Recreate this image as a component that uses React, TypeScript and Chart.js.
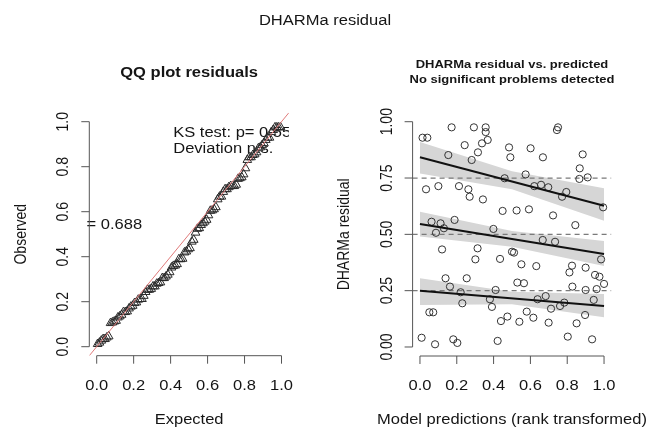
import React, { useEffect, useRef } from "react";
import { Chart, registerables } from "chart.js";
Chart.register(...registerables);

// ---------- data ----------
const residX = [
  0.014, 0.04, 0.172, 0.293, 0.357, 0.357, 0.368, 0.337, 0.243, 0.315,
  0.281, 0.154, 0.484, 0.491, 0.601, 0.668, 0.75, 0.744, 0.033, 0.1,
  0.212, 0.263, 0.27, 0.342, 0.46, 0.574, 0.621, 0.658, 0.697, 0.772,
  0.795, 0.884, 0.868, 0.866, 0.911, 0.995, 0.449, 0.525, 0.592, 0.723,
  0.844, 0.063, 0.112, 0.087, 0.13, 0.188, 0.12, 0.313, 0.301, 0.399,
  0.435, 0.5, 0.511, 0.551, 0.632, 0.667, 0.734, 0.826, 0.812, 0.9,
  0.951, 0.984, 0.975, 1.0, 0.139, 0.163, 0.254, 0.221, 0.23, 0.411,
  0.529, 0.565, 0.38, 0.391, 0.639, 0.683, 0.712, 0.761, 0.784, 0.828,
  0.9, 0.96, 0.944, 0.051, 0.072, 0.44, 0.475, 0.54, 0.58, 0.616,
  0.699, 0.851, 0.897, 0.009, 0.082, 0.181, 0.203, 0.422, 0.803, 0.935,
];
const residY = [
  0.929, 0.929, 0.975, 0.975, 0.975, 0.954, 0.919, 0.904, 0.896, 0.864,
  0.83, 0.852, 0.886, 0.842, 0.882, 0.842, 0.975, 0.963, 0.7, 0.714,
  0.714, 0.7, 0.667, 0.655, 0.749, 0.766, 0.714, 0.72, 0.709, 0.667,
  0.688, 0.855, 0.793, 0.746, 0.753, 0.62, 0.604, 0.606, 0.611, 0.584,
  0.541, 0.556, 0.549, 0.507, 0.527, 0.564, 0.433, 0.438, 0.389, 0.524,
  0.391, 0.423, 0.419, 0.367, 0.359, 0.475, 0.467, 0.361, 0.331, 0.352,
  0.32, 0.389, 0.312, 0.28, 0.305, 0.268, 0.305, 0.243, 0.194, 0.253,
  0.286, 0.283, 0.212, 0.178, 0.212, 0.226, 0.17, 0.182, 0.197, 0.268,
  0.253, 0.257, 0.209, 0.154, 0.154, 0.115, 0.135, 0.112, 0.157, 0.13,
  0.108, 0.105, 0.142, 0.041, 0.012, 0.034, 0.018, 0.027, 0.046, 0.034,
];

// quantile regression lines (value at x = 0 and x = 1)
const lineX = [0, 1];
const q25Line = [0.25, 0.182];
const q50Line = [0.546, 0.413];
const q75Line = [0.842, 0.627];
// confidence bands (at x = 0, 0.5, 1)
const bandX = [0, 0.5, 1];
const q25Lo = [0.186, 0.19, 0.132];
const q25Hi = [0.305, 0.245, 0.235];
const q50Lo = [0.49, 0.445, 0.36];
const q50Hi = [0.6, 0.515, 0.47];
const q75Lo = [0.77, 0.7, 0.56];
const q75Hi = [0.91, 0.78, 0.705];
const refLines = [0.25, 0.5, 0.75];

const xTicks = [0, 0.2, 0.4, 0.6, 0.8, 1];
const xTickLabels = ["0.0", "0.2", "0.4", "0.6", "0.8", "1.0"];
const qqYTicks = [0, 0.2, 0.4, 0.6, 0.8, 1];
const qqYTickLabels = ["0.0", "0.2", "0.4", "0.6", "0.8", "1.0"];
const resYTicks = [0, 0.25, 0.5, 0.75, 1];
const resYTickLabels = ["0.00", "0.25", "0.50", "0.75", "1.00"];

const mainTitle = "DHARMa residual";
const qqTitle = "QQ plot residuals";
const resTitle = ["DHARMa residual vs. predicted", "No significant problems detected"];
const qqXLabel = "Expected";
const qqYLabel = "Observed";
const resXLabel = "Model predictions (rank transformed)";
const resYLabel = "DHARMa residual";
const ksText = ["KS test: p= 0.55", "Deviation n.s."];
const dispText = "= 0.688";

// QQ points: sorted residuals vs uniform plotting positions
const qqObserved = [...residY].sort((a, b) => a - b);
const qqExpected = qqObserved.map((_, i) => (i + 0.5) / qqObserved.length);

// ---------- styling ----------
const AXMIN = -0.04;
const AXMAX = 1.04;
const FONT = '"Liberation Sans", Arial, Helvetica, sans-serif';
const SX = 1.18;
const W = 647;
const H = 435;

function txt(ctx: CanvasRenderingContext2D, s: string, x: number, y: number, font: string, align: CanvasTextAlign = "center", rot = false) {
  ctx.save();
  ctx.translate(x, y);
  ctx.scale(SX, 1);
  if (rot) ctx.rotate(-Math.PI / 2);
  ctx.font = font;
  ctx.textAlign = align;
  ctx.textBaseline = "middle";
  ctx.fillStyle = "#151515";
  ctx.fillText(s, 0, 0);
  ctx.restore();
}

function axesPlugin(cfg: {
  yTicks: number[];
  yLabels: string[];
  xLabel: string;
  yLabel: string;
  titles: string[];
  titleFont: string;
  titleY: number[];
  extra?: (chart: any) => void;
  before?: (chart: any) => void;
}) {
  return {
    id: "rAxes",
    beforeDatasetsDraw(chart: any) {
      if (cfg.before) cfg.before(chart);
    },
    afterDraw(chart: any) {
      const ctx = chart.ctx as CanvasRenderingContext2D;
      const { left, right, top, bottom } = chart.chartArea;
      const xs = chart.scales.x;
      const ys = chart.scales.y;
      ctx.save();
      ctx.strokeStyle = "#555";
      ctx.lineWidth = 1;
      ctx.beginPath();
      ctx.moveTo(xs.getPixelForValue(xTicks[0]), bottom);
      ctx.lineTo(xs.getPixelForValue(xTicks[xTicks.length - 1]), bottom);
      xTicks.forEach((t) => {
        const px = xs.getPixelForValue(t);
        ctx.moveTo(px, bottom);
        ctx.lineTo(px, bottom + 8);
      });
      ctx.moveTo(left, ys.getPixelForValue(cfg.yTicks[0]));
      ctx.lineTo(left, ys.getPixelForValue(cfg.yTicks[cfg.yTicks.length - 1]));
      cfg.yTicks.forEach((t) => {
        const py = ys.getPixelForValue(t);
        ctx.moveTo(left, py);
        ctx.lineTo(left - 8, py);
      });
      ctx.stroke();
      ctx.restore();
      const f = `14px ${FONT}`;
      xTicks.forEach((t, i) => txt(ctx, xTickLabels[i], xs.getPixelForValue(t), bottom + 30, f));
      cfg.yTicks.forEach((t, i) => txt(ctx, cfg.yLabels[i], left - 25.5, ys.getPixelForValue(t), f, "center", true));
      const cx = (left + right) / 2;
      txt(ctx, cfg.xLabel, cx, bottom + 64, f);
      txt(ctx, cfg.yLabel, left - 68, (top + bottom) / 2, f, "center", true);
      cfg.titles.forEach((t, i) => txt(ctx, t, cx, cfg.titleY[i], cfg.titleFont));
      if (cfg.extra) cfg.extra(chart);
    },
  };
}

const scaleOpts = {
  x: { type: "linear", min: AXMIN, max: AXMAX, display: false },
  y: { type: "linear", min: AXMIN, max: AXMAX, display: false },
};

export default function App() {
  const leftRef = useRef<HTMLCanvasElement>(null);
  const rightRef = useRef<HTMLCanvasElement>(null);

  useEffect(() => {
    const left = new Chart(leftRef.current as HTMLCanvasElement, {
      type: "scatter",
      data: {
        datasets: [
          {
            data: [AXMIN, AXMAX].map((v) => ({ x: v, y: v })),
            showLine: true,
            borderColor: "#e07a7a",
            borderWidth: 1,
            pointRadius: 0,
          },
          {
            data: qqExpected.map((x, i) => ({ x, y: qqObserved[i] })),
            pointStyle: "triangle",
            pointRadius: 5,
            borderColor: "#2a2a2a",
            backgroundColor: "rgba(0,0,0,0)",
            borderWidth: 1,
          },
        ],
      },
      options: {
        animation: false,
        responsive: false,
        events: [],
        layout: { padding: { left: 89.3, right: W - 288.9, top: 112.7, bottom: H - 355.7 } },
        scales: scaleOpts as any,
        plugins: { legend: { display: false }, tooltip: { enabled: false } },
      },
      plugins: [
        axesPlugin({
          yTicks: qqYTicks,
          yLabels: qqYTickLabels,
          xLabel: qqXLabel,
          yLabel: qqYLabel,
          titles: [qqTitle],
          titleFont: `bold 14px ${FONT}`,
          titleY: [73],
          before: (chart: any) => {
            const ctx = chart.ctx as CanvasRenderingContext2D;
            const a = chart.chartArea;
            const xs = chart.scales.x;
            const ys = chart.scales.y;
            ctx.save();
            ctx.beginPath();
            ctx.rect(a.left, a.top, a.right - a.left, a.bottom - a.top);
            ctx.clip();
            const f = `14px ${FONT}`;
            txt(ctx, ksText[0], xs.getPixelForValue(0.414), ys.getPixelForValue(0.951), f, "left");
            txt(ctx, ksText[1], xs.getPixelForValue(0.414), ys.getPixelForValue(0.877), f, "left");
            ctx.restore();
            txt(ctx, dispText, xs.getPixelForValue(-0.055), ys.getPixelForValue(0.541), `14px ${FONT}`, "left");
          },
          extra: (chart: any) => {
            const ctx = chart.ctx as CanvasRenderingContext2D;
            txt(ctx, mainTitle, 325, 21, `14px ${FONT}`);
          },
        }),
      ],
    } as any);

    const band = (lo: number[], hi: number[]) => [
      {
        data: bandX.map((x, i) => ({ x, y: lo[i] })),
        showLine: true,
        borderWidth: 0,
        borderColor: "rgba(0,0,0,0)",
        pointRadius: 0,
        fill: false,
        order: 10,
      },
      {
        data: bandX.map((x, i) => ({ x, y: hi[i] })),
        showLine: true,
        borderWidth: 0,
        borderColor: "rgba(0,0,0,0)",
        pointRadius: 0,
        fill: "-1",
        backgroundColor: "#d6d6d6",
        order: 10,
      },
    ];
    const qline = (vals: number[]) => ({
      data: lineX.map((x, i) => ({ x, y: vals[i] })),
      showLine: true,
      borderColor: "#111",
      borderWidth: 2,
      pointRadius: 0,
      order: 0,
    });

    const right = new Chart(rightRef.current as HTMLCanvasElement, {
      type: "scatter",
      data: {
        datasets: [
          ...band(q25Lo, q25Hi),
          ...band(q50Lo, q50Hi),
          ...band(q75Lo, q75Hi),
          ...refLines.map((v) => ({
            data: [AXMIN, AXMAX].map((x) => ({ x, y: v })),
            showLine: true,
            borderColor: "#7a7a7a",
            borderWidth: 1.2,
            borderDash: [5, 4],
            pointRadius: 0,
            order: 8,
          })),
          {
            data: residX.map((x, i) => ({ x, y: residY[i] })),
            pointStyle: "circle",
            pointRadius: 3.6,
            borderColor: "#333",
            backgroundColor: "rgba(0,0,0,0)",
            borderWidth: 1,
            order: 5,
          },
          qline(q25Line),
          qline(q50Line),
          qline(q75Line),
        ],
      },
      options: {
        animation: false,
        responsive: false,
        events: [],
        layout: { padding: { left: 412.6, right: W - 611.4, top: 112.7, bottom: H - 356 } },
        scales: scaleOpts as any,
        plugins: { legend: { display: false }, tooltip: { enabled: false } },
      },
      plugins: [
        axesPlugin({
          yTicks: resYTicks,
          yLabels: resYTickLabels,
          xLabel: resXLabel,
          yLabel: resYLabel,
          titles: resTitle,
          titleFont: `bold 11px ${FONT}`,
          titleY: [65, 80],
        }),
      ],
    } as any);

    return () => {
      left.destroy();
      right.destroy();
    };
  }, []);

  const cs: React.CSSProperties = { position: "absolute", left: 0, top: 0, width: W, height: H };
  return (
    <div style={{ position: "fixed", left: 0, top: 0, width: W, height: H, background: "#fff", overflow: "hidden" }}>
      <canvas ref={leftRef} width={W} height={H} style={cs} />
      <canvas ref={rightRef} width={W} height={H} style={cs} />
    </div>
  );
}
